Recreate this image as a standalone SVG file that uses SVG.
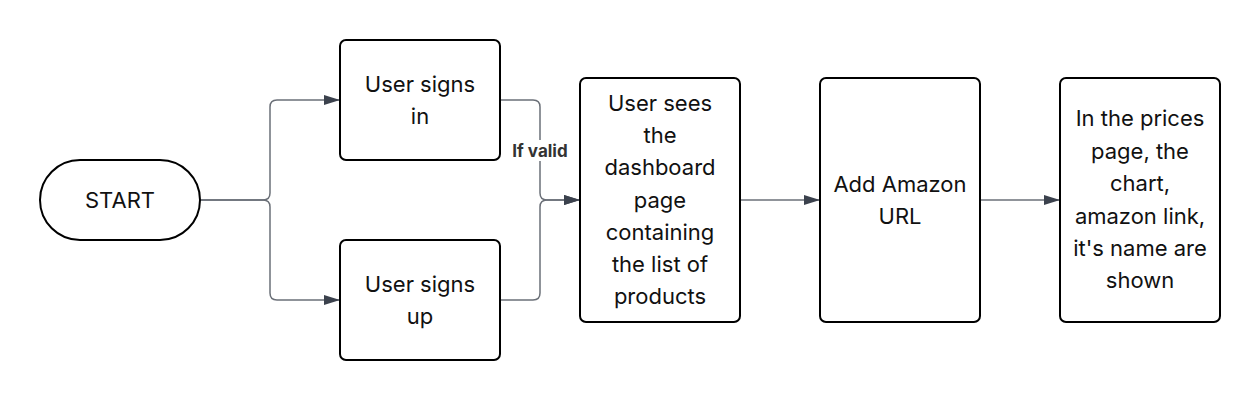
<svg xmlns="http://www.w3.org/2000/svg" width="1260" height="400" viewBox="0 0 1260 400">
<defs>
<marker id="arr" markerUnits="userSpaceOnUse" markerWidth="17" markerHeight="12" refX="16" refY="6" orient="auto">
<path d="M0,1 L16,6 L0,11 Z" fill="#3b414d"/>
</marker>
<style>
.n{fill:#fff;stroke:#000;stroke-width:2}
.t{font-family:Inter,"Liberation Sans",sans-serif;font-size:22px;fill:#111;text-anchor:middle;dominant-baseline:central}
.c{fill:none;stroke:#6b7078;stroke-width:1.5}
.lbl{font-family:Inter,"Liberation Sans",sans-serif;font-size:17px;font-weight:bold;fill:#333;text-anchor:middle;dominant-baseline:central}
</style>
</defs>
<rect width="1260" height="400" fill="#fff"/>
<g id="connectors">
<path class="c" d="M200 200 H263 Q270 200 270 193 V107 Q270 100 277 100 H340" marker-end="url(#arr)"/>
<path class="c" d="M200 200 H263 Q270 200 270 207 V293 Q270 300 277 300 H340" marker-end="url(#arr)"/>
<path class="c" d="M500 100 H533 Q540 100 540 107 V193 Q540 200 547 200 H580" marker-end="url(#arr)"/>
<path class="c" d="M500 300 H533 Q540 300 540 293 V207 Q540 200 547 200 H580" marker-end="url(#arr)"/>
<path class="c" d="M740 200 H820" marker-end="url(#arr)"/>
<path class="c" d="M980 200 H1060" marker-end="url(#arr)"/>
<rect x="508" y="140" width="64" height="21" fill="#fff"/>
<text class="lbl" x="540" y="151">If valid</text>
</g>
<g id="start">
<rect class="n" x="40" y="160" width="160" height="80" rx="40"/>
<text class="t" x="120" y="200">START</text>
</g>
<g id="signin">
<rect class="n" x="340" y="40" width="160" height="120" rx="6"/>
<text class="t" x="420" y="84">User signs</text>
<text class="t" x="420" y="116">in</text>
</g>
<g id="signup">
<rect class="n" x="340" y="240" width="160" height="120" rx="6"/>
<text class="t" x="420" y="284">User signs</text>
<text class="t" x="420" y="316">up</text>
</g>
<g id="dashboard">
<rect class="n" x="580" y="78" width="160" height="244" rx="6"/>
<text class="t" x="660" y="103">User sees</text>
<text class="t" x="660" y="135">the</text>
<text class="t" x="660" y="167">dashboard</text>
<text class="t" x="660" y="200">page</text>
<text class="t" x="660" y="232">containing</text>
<text class="t" x="660" y="264">the list of</text>
<text class="t" x="660" y="296">products</text>
</g>
<g id="addurl">
<rect class="n" x="820" y="78" width="160" height="244" rx="6"/>
<text class="t" x="900" y="184">Add Amazon</text>
<text class="t" x="900" y="216">URL</text>
</g>
<g id="prices">
<rect class="n" x="1060" y="78" width="160" height="244" rx="6"/>
<text class="t" x="1140" y="118">In the prices</text>
<text class="t" x="1140" y="151">page, the</text>
<text class="t" x="1140" y="183">chart,</text>
<text class="t" x="1140" y="216">amazon link,</text>
<text class="t" x="1140" y="248">it's name are</text>
<text class="t" x="1140" y="280">shown</text>
</g>
</svg>
